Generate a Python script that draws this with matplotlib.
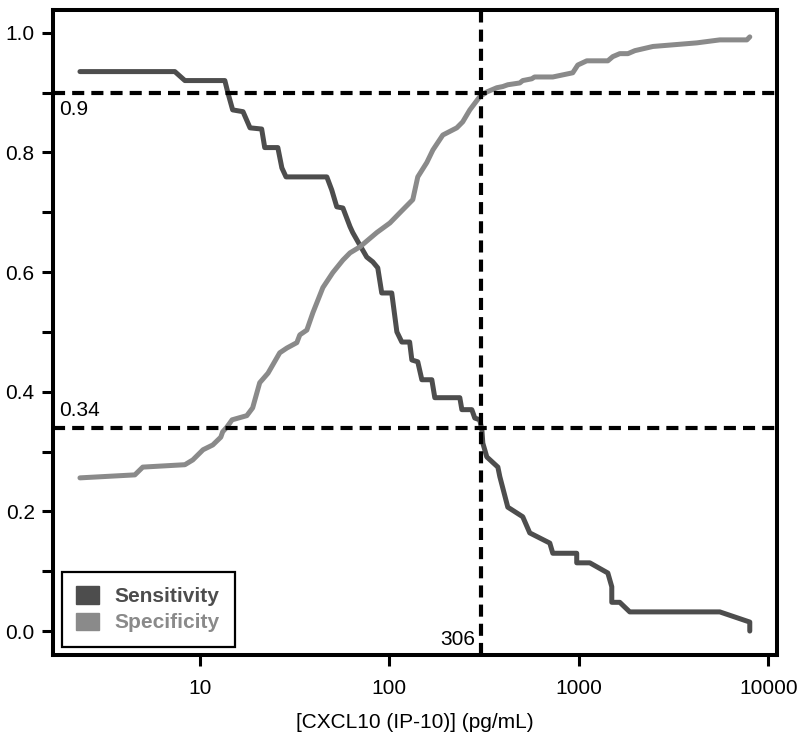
import numpy as np
import matplotlib.pyplot as plt
from matplotlib.patches import Patch

plt.rcParams['font.family'] = ['Liberation Sans', 'DejaVu Sans']

# Sensitivity curve (threshold in pg/mL, fraction)
sens_x = [2.33, 7.38, 8.34, 13.55, 14.05, 14.9, 16.9, 18.4, 21.2, 22.0, 25.8, 27.1,
          28.5, 46.8, 49.7, 52.8, 56.9, 62.0, 64.1, 69.9, 76.0, 81.8, 86.9, 91.2,
          103, 109.6, 116.4, 128, 131.5, 141.3, 148.5, 167.6, 173.8, 235.5, 241.5,
          272.5, 282.5, 300, 308, 311.5, 327, 374, 383, 422, 506, 551, 703, 729,
          975, 975, 1143, 1423, 1493, 1493, 1645, 1857, 5546, 7986, 7986]
sens_y = [0.935, 0.935, 0.920, 0.920, 0.900, 0.871, 0.868, 0.841, 0.839, 0.808, 0.808, 0.774,
          0.759, 0.759, 0.737, 0.709, 0.707, 0.676, 0.666, 0.645, 0.625, 0.617, 0.607, 0.565,
          0.565, 0.500, 0.483, 0.483, 0.453, 0.450, 0.420, 0.420, 0.390, 0.390, 0.370,
          0.370, 0.356, 0.353, 0.336, 0.314, 0.291, 0.274, 0.258, 0.207, 0.191, 0.164, 0.147, 0.130,
          0.130, 0.114, 0.114, 0.097, 0.074, 0.048, 0.048, 0.032, 0.032, 0.015, 0.0]

# Specificity curve
spec_x = [2.33, 4.54, 5.0, 8.34, 9.18, 10.4, 11.7, 12.9, 13.2, 13.9, 14.8, 17.7, 19.0,
          20.7, 22.9, 26.4, 28.8, 32.5, 33.7, 36.7, 39.5, 44.6, 50.3, 56.9, 62, 69.9,
          85.9, 100.7, 113.6, 133, 141.3, 157.7, 169.8, 191.6, 227, 244, 266, 300, 327,
          369, 397, 422, 488, 506, 565, 584, 729, 929, 988, 1102, 1423, 1511, 1645,
          1817, 1977, 2462, 4195, 5546, 7709, 7986]
spec_y = [0.256, 0.261, 0.274, 0.278, 0.286, 0.303, 0.311, 0.324, 0.333, 0.341, 0.353, 0.360, 0.373,
          0.415, 0.431, 0.465, 0.473, 0.482, 0.495, 0.503, 0.532, 0.574, 0.599, 0.620, 0.632, 0.642,
          0.666, 0.682, 0.699, 0.721, 0.759, 0.783, 0.804, 0.829, 0.841, 0.851, 0.871, 0.893, 0.901,
          0.908, 0.910, 0.913, 0.916, 0.920, 0.923, 0.926, 0.926, 0.933, 0.946, 0.953, 0.953, 0.960, 0.965,
          0.965, 0.970, 0.977, 0.983, 0.988, 0.988, 0.993]

cutoff = 306
h_levels = [0.9, 0.34]

sens_color = '#4d4d4d'
spec_color = '#8a8a8a'
fs = 15

fig = plt.figure(figsize=(8, 7.38), dpi=100)
ax = fig.add_axes([0.066, 0.1125, 0.905, 0.874])

ax.plot(sens_x, sens_y, color=sens_color, lw=3.6, solid_joinstyle='round', solid_capstyle='round', zorder=3)
ax.plot(spec_x, spec_y, color=spec_color, lw=3.6, solid_joinstyle='round', solid_capstyle='round', zorder=3)

dash = (0, (2.9, 1.7))
for h in h_levels:
    ax.axhline(h, color='black', lw=3, linestyle=dash, zorder=4)
ax.axvline(cutoff, color='black', lw=3, linestyle=dash, zorder=4)

ax.set_xscale('log')
ax.set_xlim(1.675, 11090)
ax.set_ylim(-0.040, 1.038)
ax.set_xticks([10, 100, 1000, 10000])
ax.set_xticklabels(['10', '100', '1000', '10000'])
ax.xaxis.set_minor_locator(plt.NullLocator())
ax.set_yticks([0.0, 0.2, 0.4, 0.6, 0.8, 1.0])
ax.set_yticklabels(['0.0', '0.2', '0.4', '0.6', '0.8', '1.0'])
ax.set_yticks(np.arange(0.1, 1.0, 0.2), minor=True)

for s in ax.spines.values():
    s.set_linewidth(2.9)
ax.tick_params(axis='both', which='both', direction='out', length=8, width=2.2,
               labelsize=fs, colors='black')
ax.tick_params(axis='x', pad=9)
ax.tick_params(axis='y', pad=5)

ax.set_xlabel('[CXCL10 (IP-10)] (pg/mL)', fontsize=fs, labelpad=11)

# annotations for the cut-offs
ax.text(1.8, 0.9 - 0.012, '0.9', fontsize=fs, ha='left', va='top')
ax.text(1.8, 0.34 + 0.012, '0.34', fontsize=fs, ha='left', va='bottom')
ax.text(cutoff * 0.93, -0.03, '306', fontsize=fs, ha='right', va='bottom')

handles = [Patch(facecolor=sens_color, edgecolor=sens_color),
           Patch(facecolor=spec_color, edgecolor=spec_color)]
leg = ax.legend(handles, ['Sensitivity', 'Specificity'], loc='lower left',
                bbox_to_anchor=(0.0124, 0.0124), borderaxespad=0, fancybox=False,
                edgecolor='black', framealpha=1, handlelength=1.1, handleheight=0.9,
                handletextpad=0.75, borderpad=0.7, labelspacing=0.3,
                prop={'size': fs, 'weight': 'bold'})
leg.get_frame().set_linewidth(1.6)
for t, c in zip(leg.get_texts(), [sens_color, spec_color]):
    t.set_color(c)

fig.savefig('out.png', dpi=100)
